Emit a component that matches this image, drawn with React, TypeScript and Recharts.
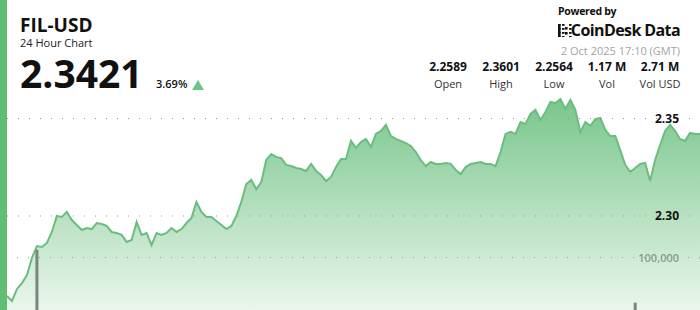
import { ComposedChart, Area, Bar, XAxis, YAxis, ReferenceLine } from 'recharts';

// 24h price, ~10 min steps
const prices = [
  2.2590, 2.2564, 2.2626, 2.2656, 2.2697, 2.2785, 2.2846, 2.2841, 2.2862, 2.2918,
  2.3000, 2.2995, 2.3021, 2.2979, 2.2954, 2.2928, 2.2938, 2.2933, 2.2964, 2.2959,
  2.2949, 2.2918, 2.2913, 2.2903, 2.2867, 2.2877, 2.2969, 2.2903, 2.2913, 2.2851,
  2.2913, 2.2903, 2.2913, 2.2938, 2.2918, 2.2933, 2.2964, 2.2990, 2.3072, 2.3021,
  2.2995, 2.2995, 2.2974, 2.2954, 2.2933, 2.2949, 2.3000, 2.3072, 2.3164, 2.3185,
  2.3138, 2.3174, 2.3287, 2.3318, 2.3303, 2.3297, 2.3262, 2.3256, 2.3246, 2.3241,
  2.3231, 2.3267, 2.3231, 2.3210, 2.3179, 2.3200, 2.3251, 2.3292, 2.3292, 2.3385,
  2.3349, 2.3379, 2.3395, 2.3354, 2.3421, 2.3436, 2.3467, 2.3410, 2.3395, 2.3385,
  2.3374, 2.3359, 2.3328, 2.3287, 2.3256, 2.3277, 2.3267, 2.3267, 2.3272, 2.3267,
  2.3236, 2.3215, 2.3251, 2.3267, 2.3272, 2.3277, 2.3267, 2.3267, 2.3256, 2.3328,
  2.3421, 2.3431, 2.3421, 2.3482, 2.3472, 2.3523, 2.3544, 2.3492, 2.3533, 2.3585,
  2.3579, 2.3600, 2.3549, 2.3595, 2.3544, 2.3431, 2.3482, 2.3462, 2.3497, 2.3503,
  2.3441, 2.3410, 2.3410, 2.3338, 2.3262, 2.3226, 2.3246, 2.3267, 2.3272, 2.3179,
  2.3287, 2.3364, 2.3436, 2.3467, 2.3436, 2.3395, 2.3385, 2.3426, 2.3421, 2.3421,
];

// only two visible volume bars
const volumeIdx = [6, 126];
const volumeVal = [115000, 14000];

const priceTicks = [2.3, 2.35];
const volumeTicks = [100000];

const statValues = ['2.2589', '2.3601', '2.2564', '1.17 M', '2.71 M'];
const statLabels = ['Open', 'High', 'Low', 'Vol', 'Vol USD'];

const data = prices.map((price, i) => {
  const k = volumeIdx.indexOf(i);
  return { i, price, vol: k >= 0 ? volumeVal[k] : 0 };
});

const font = '"Open Sans", sans-serif';

const LogoIcon = () => (
  <svg width={15} height={13} style={{ position: 'absolute', left: 558, top: 24 }}>
    {[0, 4, 8, 12].map(y =>
      [0, 4, 11].map(x => (
        <rect key={`${x}-${y}`} x={x} y={y} width={2.6} height={1.8} fill="#111" />
      ))
    )}
    <rect x={0} y={0} width={2.6} height={13} fill="#111" />
    <rect x={7} y={3} width={2.6} height={2.6} fill="#111" />
    <rect x={7} y={8} width={2.6} height={2.6} fill="#111" />
  </svg>
);

export default function App() {
  return (
    <div style={{ position: 'absolute', left: 0, top: 0, width: 700, height: 310, background: '#fff', fontFamily: font, overflow: 'hidden' }}>
      <ComposedChart width={700} height={310} data={data} margin={{ top: 90, right: 0, bottom: 0, left: 7 }}>
        <defs>
          <linearGradient id="fillGreen" x1="0" y1="0" x2="0" y2="1">
            <stop offset="0%" stopColor="#79c68c" stopOpacity={1} />
            <stop offset="100%" stopColor="#eaf6ec" stopOpacity={1} />
          </linearGradient>
        </defs>
        <XAxis dataKey="i" type="number" domain={[0, prices.length - 1]} hide />
        <YAxis yAxisId="price" domain={[2.2518, 2.3646]} hide allowDataOverflow />
        <YAxis yAxisId="vol" domain={[0, 420000]} hide orientation="right" allowDataOverflow />
        <Area
          yAxisId="price"
          type="linear"
          dataKey="price"
          stroke="#6bbd7f"
          strokeWidth={2}
          fill="url(#fillGreen)"
          fillOpacity={1}
          isAnimationActive={false}
        />
        <Bar yAxisId="vol" dataKey="vol" barSize={3} fill="#7a8580" isAnimationActive={false} />
        {priceTicks.map(t => (
          <ReferenceLine
            key={t}
            yAxisId="price"
            y={t}
            stroke="#9a9a9a"
            strokeDasharray="1 10"
            label={{ value: t.toFixed(2), position: 'insideRight', offset: 21, fill: '#111', fontSize: 12, fontWeight: 700 }}
          />
        ))}
        {volumeTicks.map(t => (
          <ReferenceLine
            key={t}
            yAxisId="vol"
            y={t}
            stroke="#9a9a9a"
            strokeDasharray="1 10"
            label={{ value: t.toLocaleString('en-US'), position: 'insideRight', offset: 21, fill: '#879a8b', fontSize: 11, fontWeight: 600 }}
          />
        ))}
      </ComposedChart>

      {/* left accent bar */}
      <div style={{ position: 'absolute', left: 0, top: 0, width: 7, height: 310, background: '#5fbd74' }} />

      <div style={{ position: 'absolute', left: 20, top: 16, fontSize: 19, lineHeight: 1, fontWeight: 700, color: '#111' }}>FIL-USD</div>
      <div style={{ position: 'absolute', left: 20, top: 37, fontSize: 11, lineHeight: 1, color: '#222' }}>24 Hour Chart</div>
      <div style={{ position: 'absolute', left: 20, top: 53, fontSize: 39, lineHeight: 1, fontWeight: 700, color: '#111' }}>2.3421</div>
      <div style={{ position: 'absolute', left: 156, top: 78, fontSize: 11, lineHeight: 1, fontWeight: 600, color: '#111' }}>3.69%</div>
      <svg width={12} height={10} style={{ position: 'absolute', left: 192, top: 80 }}>
        <polygon points="6,0 12,10 0,10" fill="#6cc486" />
      </svg>

      <div style={{ position: 'absolute', left: 558, top: 6, fontSize: 10.5, lineHeight: 1, fontWeight: 700, color: '#111', letterSpacing: -0.3 }}>Powered by</div>
      <LogoIcon />
      <div style={{ position: 'absolute', right: 20, top: 22, fontSize: 16, lineHeight: 1, fontWeight: 700, color: '#111', letterSpacing: -0.6 }}>CoinDesk Data</div>
      <div style={{ position: 'absolute', right: 20, top: 45, fontSize: 11, lineHeight: 1, color: '#a3a3a3' }}>2 Oct 2025 17:10 (GMT)</div>

      {statValues.map((v, k) => (
        <div key={v} style={{ position: 'absolute', left: 448 + k * 53 - 30, top: 61, width: 60, textAlign: 'center', lineHeight: 1 }}>
          <div style={{ fontSize: 12, fontWeight: 700, color: '#111' }}>{v}</div>
          <div style={{ fontSize: 11, color: '#333', marginTop: 5 }}>{statLabels[k]}</div>
        </div>
      ))}
    </div>
  );
}
